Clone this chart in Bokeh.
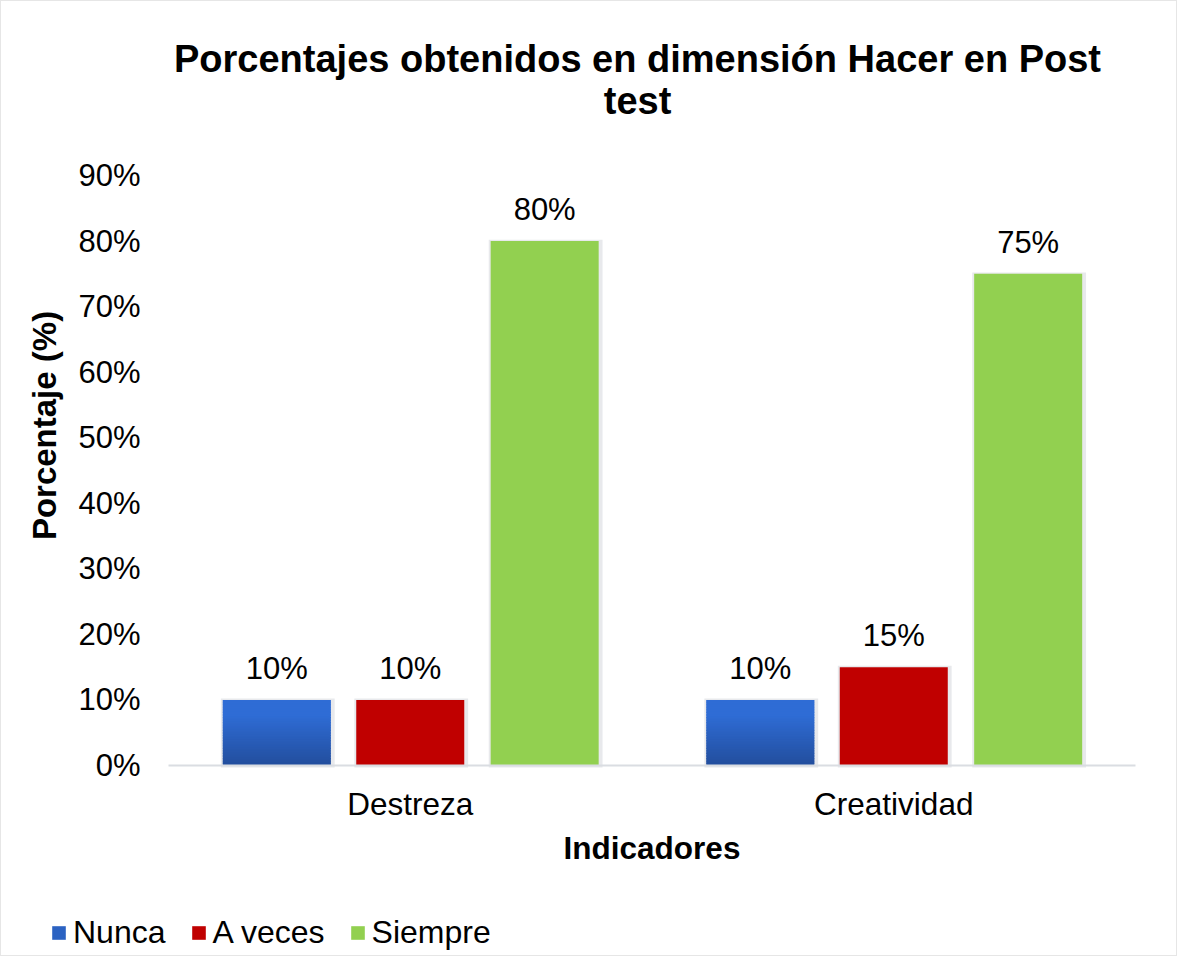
import math
from bokeh.plotting import figure
from bokeh.models import (Range1d, FixedTicker, PrintfTickFormatter,
                          ColumnDataSource, LabelSet, Label, Legend, LegendItem)
from bokeh.core.properties import value
from bokeh.embed import file_html
from bokeh.resources import INLINE

# ---- data ----
categories = ["Destreza", "Creatividad"]
series_names = ["Nunca", "A veces", "Siempre"]
nunca = [10, 10]
a_veces = [10, 15]
siempre = [80, 75]
y_ticks = [0, 10, 20, 30, 40, 50, 60, 70, 80, 90]
title_lines = ["Porcentajes obtenidos en dimensión Hacer en Post", "test"]
x_title = "Indicadores"
y_title = "Porcentaje (%)"

FONT = "Liberation Sans"
BLUE_TOP = (47, 108, 213)
BLUE_BOT = (35, 78, 158)
RED = "#C00000"
GREEN = "#92D050"
SHADOW = "#e8e9ec"

W, H = 1177, 956
n_cat = len(categories)
centers = [i + 0.5 for i in range(n_cat)]

# frame covers the whole canvas; axes sit at fixed data locations inside it
p = figure(x_range=Range1d(-0.3454, 2.0889), y_range=Range1d(-29.29, 116.54),
           width=W, height=H, output_backend="svg", toolbar_location=None,
           min_border=0, min_border_left=0, min_border_right=0,
           min_border_top=0, min_border_bottom=0)
p.outline_line_color = None
p.grid.visible = False
p.styles = {"border": "1px solid #e6e6e6"}

offsets = [-0.276, 0.0, 0.278]
bw = 0.2234

# soft shadow behind every bar
for vals, off in zip([nunca, a_veces, siempre], offsets):
    sh = ColumnDataSource(dict(x=[c + off + 0.002 for c in centers],
                               top=[v + 0.2 for v in vals]))
    p.vbar(x="x", top="top", bottom=-0.3, width=bw + 0.012, fill_color=SHADOW,
           line_color=None, source=sh)

# Nunca: vertical gradient built from overlapping slices of each bar
N = 40
xs, bots, tops, cols = [], [], [], []
for cx, v in zip(centers, nunca):
    for i in range(N):
        t = min(1.0, (i / (N - 1)) * 1.3)
        rgb = [int(BLUE_BOT[k] + (BLUE_TOP[k] - BLUE_BOT[k]) * t) for k in range(3)]
        xs.append(cx + offsets[0])
        bots.append(v * i / N)
        tops.append(v * min(N, i + 1.6) / N)
        cols.append("#%02x%02x%02x" % tuple(rgb))
src_n = ColumnDataSource(dict(x=xs, bottom=bots, top=tops, color=cols))
r_n = p.vbar(x="x", bottom="bottom", top="top", width=bw, fill_color="color",
             line_color=None, source=src_n)

src_a = ColumnDataSource(dict(x=[c + offsets[1] for c in centers], top=a_veces))
r_a = p.vbar(x="x", top="top", bottom=0, width=bw, fill_color=RED,
             line_color=None, source=src_a)
src_s = ColumnDataSource(dict(x=[c + offsets[2] for c in centers], top=siempre))
r_s = p.vbar(x="x", top="top", bottom=0, width=bw, fill_color=GREEN,
             line_color=None, source=src_s)

# data labels
for vals, off in zip([nunca, a_veces, siempre], offsets):
    s = ColumnDataSource(dict(x=[c + off for c in centers], y=vals,
                              t=[f"{v}%" for v in vals]))
    p.add_layout(LabelSet(x="x", y="y", text="t", source=s, text_align="center",
                          text_baseline="alphabetic", y_offset=21,
                          text_font=value(FONT), text_font_size="31px",
                          text_color="black"))

# y axis
yax = p.yaxis[0]
yax.fixed_location = 0
yax.ticker = FixedTicker(ticks=y_ticks)
yax.formatter = PrintfTickFormatter(format="%d%%")
yax.axis_line_color = None
yax.major_tick_line_color = None
yax.minor_tick_line_color = None
yax.major_tick_out = 0
yax.minor_tick_out = 0
yax.major_label_standoff = 28
yax.major_label_text_font = FONT
yax.major_label_text_font_size = "31px"
yax.major_label_text_color = "black"

# x axis
xax = p.xaxis[0]
xax.fixed_location = 0
xax.bounds = (0, n_cat)
xax.ticker = FixedTicker(ticks=centers)
xax.major_label_overrides = {c: name for c, name in zip(centers, categories)}
xax.axis_line_color = "#dadde2"
xax.axis_line_width = 2
xax.major_tick_line_color = None
xax.minor_tick_line_color = None
xax.major_tick_out = 0
xax.minor_tick_out = 0
xax.major_label_standoff = 21
xax.major_label_text_font = FONT
xax.major_label_text_font_size = "31.5px"
xax.major_label_text_color = "black"
xax.axis_label = x_title
xax.axis_label_standoff = 4
xax.axis_label_text_font = FONT
xax.axis_label_text_font_size = "31.5px"
xax.axis_label_text_font_style = "bold"
xax.axis_label_text_color = "black"

# y axis title
p.add_layout(Label(x=0, y=45, x_offset=-124, y_offset=45, angle=math.pi / 2,
                   text=y_title, text_align="center", text_baseline="middle",
                   text_font=FONT, text_font_size="33px", text_font_style="bold",
                   text_color="black"))

# chart title (two centred lines)
for line, dy in zip(title_lines, [116, 74]):
    p.add_layout(Label(x=n_cat / 2, y=y_ticks[-1], x_offset=-14.5, y_offset=dy,
                       text=line, text_align="center", text_baseline="alphabetic",
                       text_font=FONT, text_font_size="38px", text_font_style="bold",
                       text_color="black"))

legend = Legend(items=[LegendItem(label=series_names[0], renderers=[r_n], index=N // 2),
                       LegendItem(label=series_names[1], renderers=[r_a]),
                       LegendItem(label=series_names[2], renderers=[r_s])],
                location=(49, 6), orientation="horizontal",
                glyph_width=17, glyph_height=17, label_standoff=6, spacing=24,
                padding=0, margin=0, border_line_alpha=0, background_fill_alpha=0,
                label_text_font=FONT, label_text_font_size="32px",
                label_text_color="black")
p.add_layout(legend)

open("out.html", "w").write(file_html(p, INLINE))
